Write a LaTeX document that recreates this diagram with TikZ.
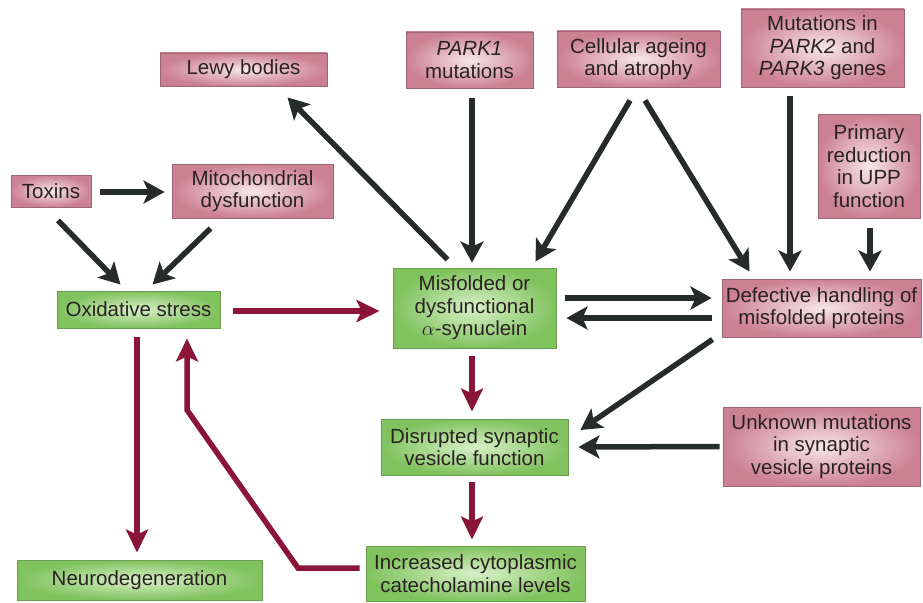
\documentclass[tikz,border=0pt]{standalone}
\usepackage{fontspec}
\setmainfont{Liberation Sans}
\usetikzlibrary{arrows.meta}
\definecolor{pinkin}{HTML}{F7E6EA}
\definecolor{pinkout}{HTML}{CC8094}
\definecolor{pinkline}{HTML}{9C6676}
\definecolor{greenin}{HTML}{D8F0C8}
\definecolor{greenout}{HTML}{80C25E}
\definecolor{greenline}{HTML}{6C9E52}
\definecolor{redarrow}{HTML}{8A1538}
\definecolor{blackarrow}{HTML}{262B2B}
\definecolor{txt}{HTML}{2A2222}
\tikzset{
  box/.style={draw, line width=0.9pt, align=center, inner sep=0pt, text=txt,
    font=\fontsize{20.5}{22.5}\selectfont},
  pinkbox/.style={box, draw=pinkline, inner color=pinkin, outer color=pinkout},
  greenbox/.style={box, draw=greenline, inner color=greenin, outer color=greenout},
  blk/.style={draw=blackarrow, line width=5.5pt, -{Stealth[length=21pt,width=23pt,inset=5pt]}},
  red/.style={draw=redarrow, line width=5.5pt, -{Stealth[length=23pt,width=22pt,inset=5pt]}},
}
\begin{document}
\begin{tikzpicture}[x=1pt,y=-1pt]
\useasboundingbox (0,0) rectangle (923,602);
% pink nodes
\node[pinkbox, minimum width=167pt, minimum height=33pt] (lewy) at (243.5,69.5) {Lewy bodies};
\node[pinkbox, minimum width=80pt, minimum height=32pt] (toxins) at (51,191) {Toxins};
\node[pinkbox, minimum width=161pt, minimum height=54pt] (mito) at (252.5,191) {Mitochondrial\\dysfunction};
\node[pinkbox, minimum width=127pt, minimum height=56pt] (park1) at (469.5,60) {\textit{PARK1}\\mutations};
\node[pinkbox, minimum width=163pt, minimum height=56pt] (cell) at (638.5,59) {Cellular ageing\\and atrophy};
\node[pinkbox, minimum width=163pt, minimum height=78pt] (park2) at (822.5,48) {Mutations in\\\textit{PARK2} and\\\textit{PARK3} genes};
\node[pinkbox, minimum width=102pt, minimum height=104pt] (primary) at (869,166) {Primary\\reduction\\in UPP\\function};
\node[pinkbox, minimum width=199pt, minimum height=58pt] (defect) at (821.5,308) {Defective handling of\\misfolded proteins};
\node[pinkbox, minimum width=197pt, minimum height=79pt] (unk) at (821.5,446.5) {Unknown mutations\\in synaptic\\vesicle proteins};
% green nodes
\node[greenbox, minimum width=163pt, minimum height=37pt] (oxid) at (138.5,309.5) {Oxidative stress};
\node[greenbox, minimum width=245pt, minimum height=40pt] (neuro) at (139.5,580) {Neurodegeneration};
\node[greenbox, minimum width=163pt, minimum height=80pt] (misf) at (474.5,308) {Misfolded or\\dysfunctional\\$\alpha$-synuclein};
\node[greenbox, minimum width=187pt, minimum height=56pt] (disr) at (474.5,447) {Disrupted synaptic\\vesicle function};
\node[greenbox, minimum width=219pt, minimum height=55pt] (incr) at (475.5,573.5) {Increased cytoplasmic\\catecholamine levels};
% black arrows
\draw[blk] ([xshift=9pt,yshift=-1pt]toxins.east) -- ([xshift=-7pt,yshift=-1pt]mito.west);
\draw[blk] ([xshift=7pt,yshift=-13pt]toxins.south) -- ([xshift=-18pt,yshift=6pt]oxid.north);
\draw[blk] ([xshift=-42pt,yshift=-10pt]mito.south) -- ([xshift=14pt,yshift=6pt]oxid.north);
\draw[blk] ([xshift=-27pt,yshift=8pt]misf.north) -- ([xshift=44pt,yshift=-11pt]lewy.south);
\draw[blk] ([xshift=2.5pt,yshift=-10pt]park1.south) -- ([xshift=-2.5pt,yshift=5pt]misf.north);
\draw[blk] ([xshift=-8.5pt,yshift=-13pt]cell.south) -- ([xshift=-21pt,yshift=6pt]misf.north east);
\draw[blk] ([xshift=6.5pt,yshift=-13pt]cell.south) -- ([xshift=28pt,yshift=7pt]defect.north west);
\draw[blk] ([xshift=-32.5pt,yshift=-9pt]park2.south) -- ([xshift=-31.5pt,yshift=7pt]defect.north);
\draw[blk] ([xshift=1pt,yshift=-10pt]primary.south) -- ([xshift=48.5pt,yshift=7pt]defect.north);
\draw[blk] ([xshift=9pt,yshift=10pt]misf.east) -- ([xshift=-10pt,yshift=10pt]defect.west);
\draw[blk] ([xshift=-10pt,yshift=-10pt]defect.west) -- ([xshift=10pt,yshift=-10pt]misf.east);
\draw[blk] ([xshift=-9pt,yshift=-2pt]defect.south west) -- ([xshift=12pt,yshift=17pt]disr.east);
\draw[blk] ([xshift=-3pt]unk.west) -- ([xshift=10pt]disr.east);
% red arrows
\draw[red] ([xshift=13pt,yshift=-1.5pt]oxid.east) -- ([xshift=-13pt,yshift=-3pt]misf.west);
\draw[red] ([xshift=-2.5pt,yshift=-8pt]misf.south) -- ([xshift=-2.5pt,yshift=7pt]disr.north);
\draw[red] ([xshift=-2.5pt,yshift=-7pt]disr.south) -- ([xshift=-3.5pt,yshift=6pt]incr.north);
\draw[red] ([xshift=-1.5pt,yshift=-9pt]oxid.south) -- ([xshift=-2.5pt,yshift=7pt]neuro.north);
\coordinate (k1) at (298,568);
\coordinate (k2) at (187,410);
\draw[red, line join=miter] ([xshift=-6pt,yshift=5.5pt]incr.west) -- (k1) -- (k2) -- ([xshift=48.5pt,yshift=-10pt]oxid.south);
\end{tikzpicture}
\end{document}
